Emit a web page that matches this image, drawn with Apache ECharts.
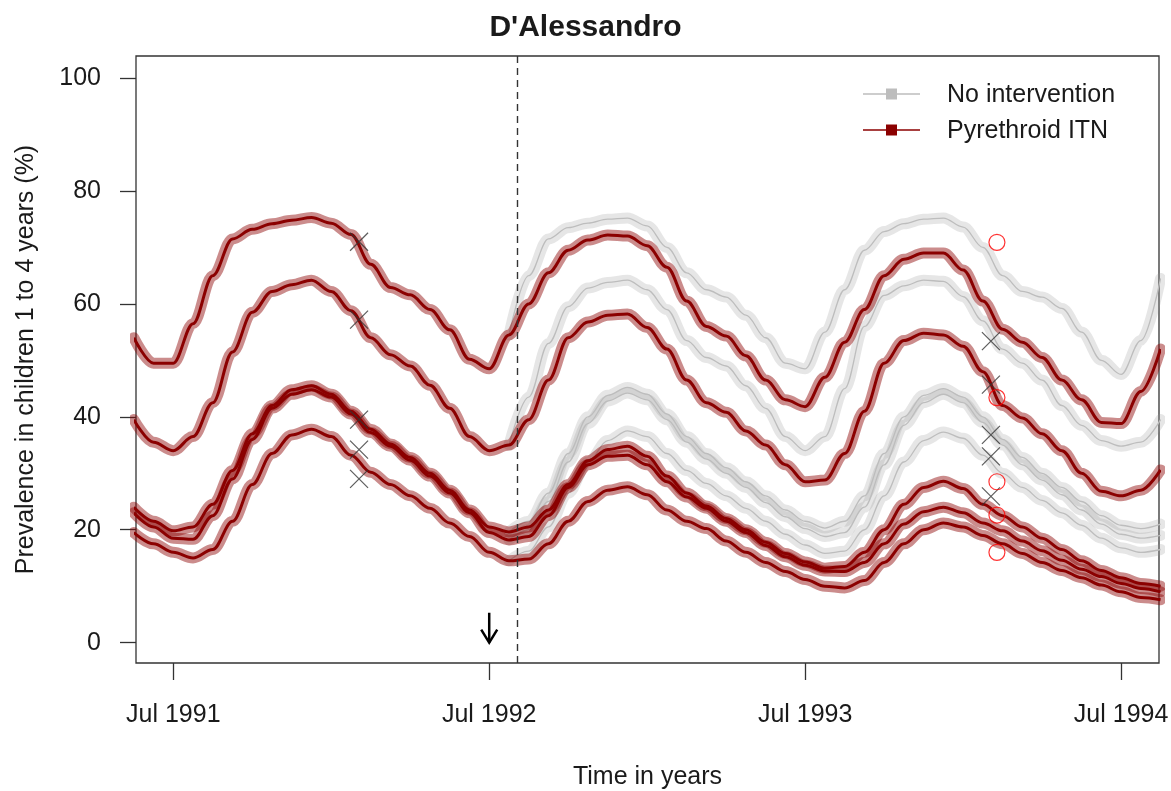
<!DOCTYPE html>
<html><head><meta charset="utf-8">
<script src="https://cdn.jsdelivr.net/npm/echarts@6/dist/echarts.min.js"></script>
<style>html,body{margin:0;padding:0;background:#fff}#c{width:1171px;height:791px}</style>
</head><body><div id="c"></div>
<script>
// ---------------- data ----------------
const times = [1991.375,1991.4375,1991.5,1991.5625,1991.625,1991.6875,1991.75,1991.8125,1991.875,1991.9375,
  1992,1992.0625,1992.125,1992.1875,1992.25,1992.3125,1992.375,1992.4375,1992.5,1992.5625,
  1992.625,1992.6875,1992.75,1992.8125,1992.875,1992.9375,1993,1993.0625,1993.125,1993.1875,
  1993.25,1993.3125,1993.375,1993.4375,1993.5,1993.5625,1993.625,1993.6875,1993.75,1993.8125,
  1993.875,1993.9375,1994,1994.0625,1994.125,1994.1875,1994.25,1994.3125,1994.375,1994.4375,
  1994.5,1994.5625,1994.625];
// Pyrethroid ITN (whole period)
const itnA = [54,49.5,49.5,56.5,65,71.5,73.2,74.2,74.8,75.3,74.3,72.3,67,62.9,61.6,59,55.4,50.2,48.5,54.5,60,65.5,69.5,71.3,72.2,72,70.3,66.5,60.5,56,54.3,50.8,46.5,43,41.8,47,53.2,59,65,67.9,69,69,66,60.5,55.5,53.2,50.5,46.5,43,39,38.8,44.5,52];
const itnB = [39.5,35.5,34,36.5,42.5,51.5,58.5,62.2,63.4,64.2,62.2,58.8,54,51,49,45.6,41.5,36.5,34,35,39.5,46.5,54,56.8,58,58.2,55.8,52,46.5,42.5,40.8,37.5,35,31.5,28.5,28.8,33.5,41,49.5,53.5,54.8,54.5,52.5,48,42,39.8,37,34,30,26.8,26,27,30.6];
const itnC = [24,21.5,19.8,20.5,24.5,30.5,37,42,44.8,45.5,44,41,37.8,35.2,32.8,30,27,23.5,20.5,19.6,20.5,23.5,28,32.2,34.2,34.8,33,29.5,26.5,24.2,22,20,17.8,15.8,14.3,13.2,13.5,16,20,24.5,27.5,28.6,27.3,24.5,22.5,20.5,18.5,16.5,14.5,12.8,11.5,10.5,10];
const itnD = [23,20.5,18.5,18.3,22.5,29,36,41.5,44,44.8,43.5,40.5,37.2,34.8,32.3,29.5,26.5,23,19.5,18.2,18.8,22.5,27.5,31.5,33,33.2,31.5,28.5,25.8,23.8,21.5,19.5,17.2,15.2,13.7,12.7,12.6,14.2,17.5,21,23.2,24,23,21.2,19.8,18,16.3,14.6,13,11.7,10.5,9.6,9];
const itnE = [19.5,17.5,16,15,16.5,21.5,28,33.5,36.8,37.8,36.5,33.2,30.2,28,26,23.8,21.2,18.8,16,14.5,14.8,17.5,21.5,25,27,27.6,26.2,23.5,21.5,20.2,18,16,14.2,12.6,11.2,10,9.7,11,14.2,17.5,20,21.2,20.5,19,17.5,15.8,14.2,12.8,11.5,10.2,9,8,7.6];
// No intervention (from 1992.5625 onward, i.e. times index 19..52)
const noneA = [54.5,65,71.5,73.5,74.3,75,75.2,73.8,70,65.5,62.5,61.2,58,54,49.5,48.5,55,62.5,69.5,72.8,74.2,75,75.2,73.6,70,65,62.2,61.2,59.2,55,50,47.5,53.5,64.5];
const noneB = [35,43.5,53,59.5,62.8,63.8,64.2,62.5,59,53.5,50.5,49,45.5,41.5,36.5,34,36.5,45,56,61.5,63.2,64.2,64,61.3,57,52,49.5,46.5,42,38.5,35.8,34.8,35.5,39.5];
const noneC = [19.6,21.5,26.5,33.5,40,43.8,45.2,44,40.5,36.5,33.5,31,28.5,26,23.5,21.5,20.3,21.5,26,33.5,40,43.8,45,43.5,40,36,32.8,30,27.5,25,22.5,20.8,20.2,21];
const noneD = [18.2,20,25,32,38.8,42.8,44.2,43,39.5,35.5,32.5,30,27.5,24.8,22.3,20.2,18.8,19.5,24,31.5,38.5,42.5,44,42.5,39,35,31.5,28.8,26.2,23.5,21,19.2,18.5,19];
const noneE = [14.5,16.2,20.5,26.5,32,35.8,37.5,36.5,33.5,30.5,28.2,26,23.8,21.5,19.2,17.3,15.8,16.2,20,26,32,35.8,37.3,36.2,33.2,30,27.5,25.2,23,20.8,18.5,16.8,16,16.5];
const noneStartIndex = 19;
// observed data
const crossPreTime = 1992.088;
const crossPre = [71, 57.2, 39.5, 34.2, 29];
const crossPostTime = 1994.088;
const crossPost = [53.4, 45.7, 36.8, 33, 25.9];
const circlePostTime = 1994.107;
const circlePost = [70.9, 43.4, 28.5, 22.6, 16];
const interventionTime = 1992.585;
const arrowTime = 1992.5, arrowTop = 5.3, arrowTip = 0;
const xTickValues = [1991.5, 1992.5, 1993.5, 1994.5];
const xTickLabels = ['Jul 1991', 'Jul 1992', 'Jul 1993', 'Jul 1994'];
const yTickValues = [0, 20, 40, 60, 80, 100];

// ---------------- chart ----------------
const FONT = '"Liberation Sans", Arial, sans-serif';
const TXT = '#1a1a1a';
const RED = '#8B0000', REDBAND = 'rgba(139,0,0,0.45)';
const GREY = '#bdbdbd', GREYBAND = 'rgba(150,150,150,0.24)';
const noneTimes = times.slice(noneStartIndex);
const pairs = (ts, vs) => vs.map((v, i) => [ts[i], v]);

const series = [];
function addCurve(ts, vs, lineColor, lineW, bandColor, zb, zl, name) {
  series.push({type:'line', data:pairs(ts, vs), symbol:'none', smooth:0.35, smoothMonotone:'x',
    lineStyle:{width:11, color:bandColor, cap:'round', join:'round'}, silent:true, z:zb, animation:false});
  series.push({type:'line', name:name, data:pairs(ts, vs), symbol:'none', smooth:0.35, smoothMonotone:'x',
    lineStyle:{width:lineW, color:lineColor, join:'round'}, silent:true, z:zl, animation:false});
}
[noneA, noneB, noneC, noneD, noneE].forEach(v => addCurve(noneTimes, v, GREY, 1.3, GREYBAND, 1, 2, 'No intervention'));
[itnA, itnB, itnC, itnD, itnE].forEach(v => addCurve(times, v, RED, 3, REDBAND, 3, 4, 'Pyrethroid ITN'));

series.push({type:'scatter', z:6, silent:true, animation:false,
  data: crossPre.map(v => [crossPreTime, v]).concat(crossPost.map(v => [crossPostTime, v])),
  symbol:'path://M0,0L10,10M10,0L0,10', symbolSize:18,
  itemStyle:{color:'rgba(0,0,0,0)', borderColor:'#333', borderWidth:1.2}});
series.push({type:'scatter', z:6, silent:true, animation:false,
  data: circlePost.map(v => [circlePostTime, v]),
  symbol:'circle', symbolSize:16,
  itemStyle:{color:'rgba(0,0,0,0)', borderColor:'#ff0000', borderWidth:1.2}});
series.push({type:'custom', z:7, silent:true, animation:false,
  data:[[arrowTime, arrowTop, arrowTip]],
  encode:{x:0, y:[1,2]},
  renderItem:(params, api) => {
    const top = api.coord([api.value(0), api.value(1)]);
    const tip = api.coord([api.value(0), api.value(2)]);
    return {type:'group', children:[
      {type:'line', shape:{x1:top[0], y1:top[1], x2:tip[0], y2:tip[1]}, style:{stroke:'#000', lineWidth:2.5}},
      {type:'polyline', shape:{points:[[tip[0]-8, tip[1]-13],[tip[0], tip[1]],[tip[0]+8, tip[1]-13]]}, style:{stroke:'#000', fill:null, lineWidth:2.5}}
    ]};
  },
  markLine:{silent:true, symbol:['none','none'], label:{show:false},
    lineStyle:{type:[7,5], color:'#333', width:1.4}, data:[{xAxis: interventionTime}]}
});

const option = {
  animation:false,
  backgroundColor:'#fff',
  title:{text:"D'Alessandro", left:'center', top:8,
    textStyle:{fontFamily:FONT, fontSize:30, fontWeight:'bold', color:TXT}},
  grid:{left:136, right:12, top:56, bottom:128, show:true, borderColor:'#333', borderWidth:1.3,
    backgroundColor:'transparent', containLabel:false, outerBoundsMode:'none'},
  xAxis:{type:'value', min:1991.382, max:1994.62,
    name:'Time in years', nameLocation:'middle', nameGap:102,
    nameTextStyle:{fontFamily:FONT, fontSize:25, color:TXT},
    axisLine:{show:false, onZero:false}, splitLine:{show:false},
    axisTick:{show:true, length:17, customValues:xTickValues, lineStyle:{color:'#333', width:1.3}},
    axisLabel:{customValues:xTickValues, margin:40, fontFamily:FONT, fontSize:25, color:TXT,
      formatter:(v) => { const i = xTickValues.findIndex(t => Math.abs(t - v) < 1e-6); return i >= 0 ? xTickLabels[i] : ''; }}
  },
  yAxis:{type:'value', min:-3.6, max:103.9,
    name:'Prevalence in children 1 to 4 years (%)', nameLocation:'middle', nameGap:97,
    nameTextStyle:{fontFamily:FONT, fontSize:25, color:TXT},
    axisLine:{show:false, onZero:false}, splitLine:{show:false},
    axisTick:{show:true, length:16, customValues:yTickValues, lineStyle:{color:'#333', width:1.3}},
    axisLabel:{customValues:yTickValues, margin:35, fontFamily:FONT, fontSize:25, color:TXT}
  },
  graphic:[
    {type:'line', shape:{x1:863, y1:94, x2:920, y2:94}, style:{stroke:GREY, lineWidth:1.5}},
    {type:'rect', shape:{x:886, y:88.5, width:11, height:11}, style:{fill:GREY}},
    {type:'text', style:{text:'No intervention', x:947, y:95, font:'25px "Liberation Sans", Arial, sans-serif', fill:TXT, verticalAlign:'middle'}},
    {type:'line', shape:{x1:863, y1:130, x2:920, y2:130}, style:{stroke:RED, lineWidth:1.5}},
    {type:'rect', shape:{x:886, y:124.5, width:11, height:11}, style:{fill:RED}},
    {type:'text', style:{text:'Pyrethroid ITN', x:947, y:131, font:'25px "Liberation Sans", Arial, sans-serif', fill:TXT, verticalAlign:'middle'}}
  ],
  series:series
};
const chart = echarts.init(document.getElementById('c'), null, {renderer:'canvas'});
chart.setOption(option);
</script></body></html>
